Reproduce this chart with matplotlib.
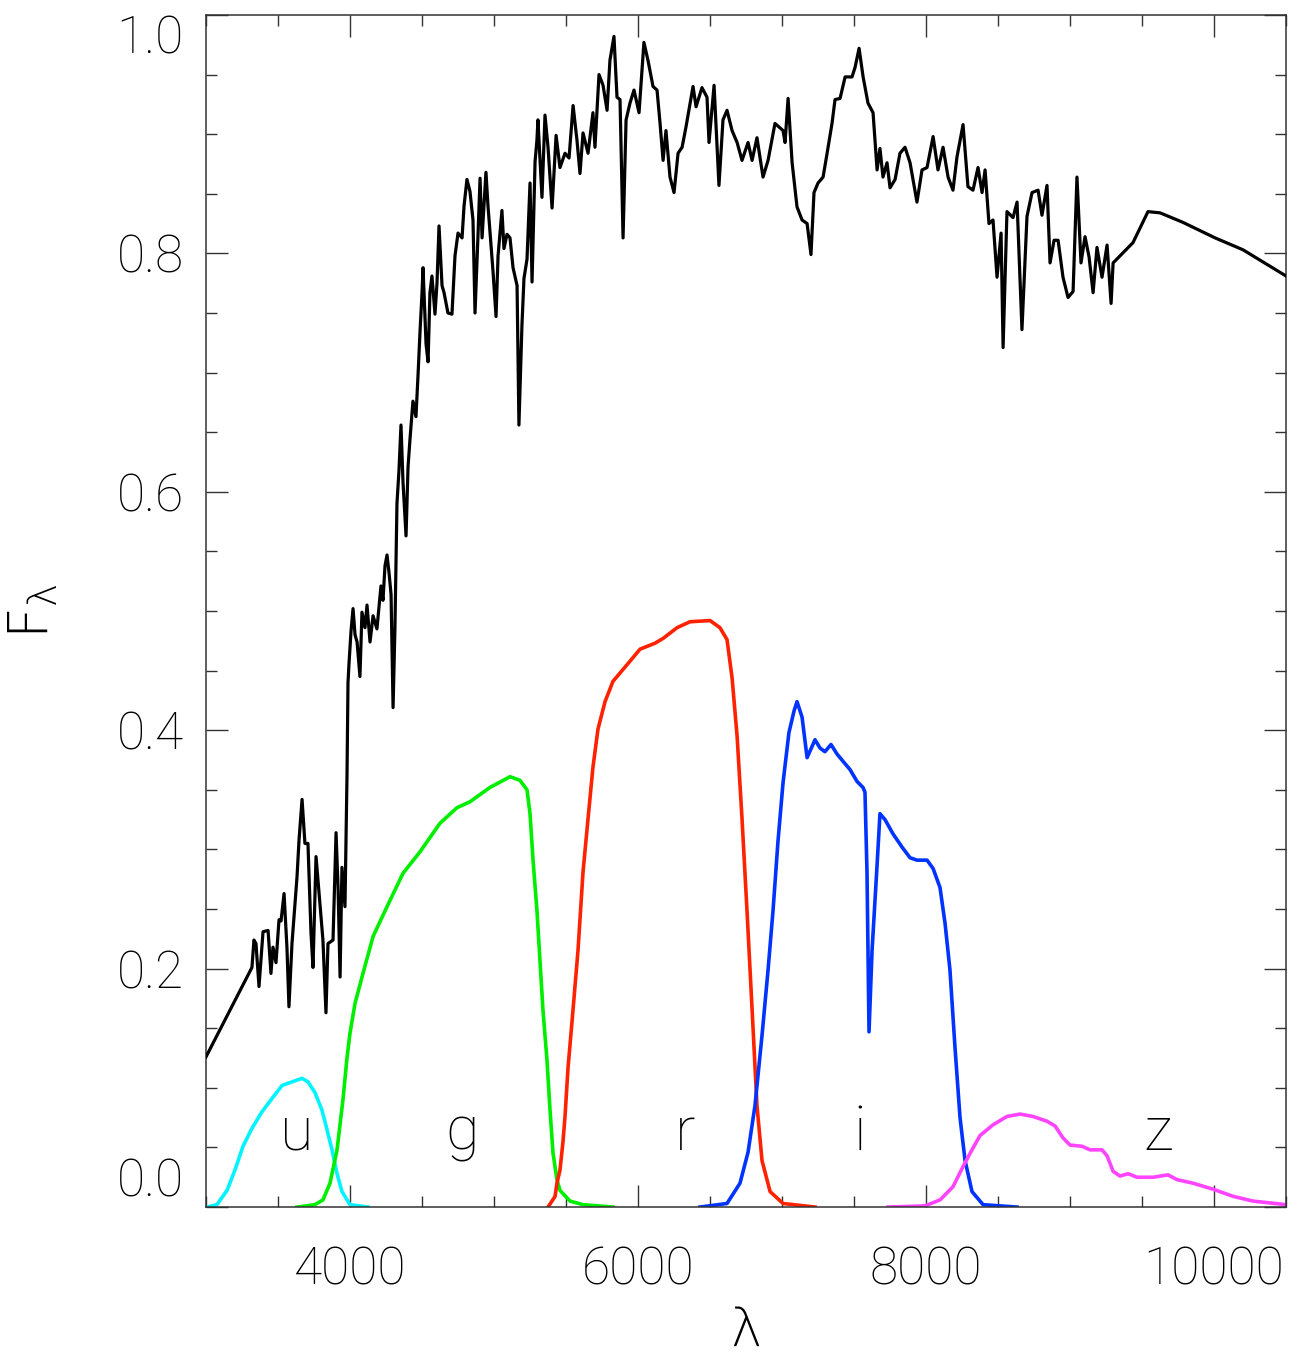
"""Galaxy spectrum with the ugriz filter curves on top."""
import matplotlib
matplotlib.use('Agg')
import matplotlib.pyplot as plt
from matplotlib.ticker import MultipleLocator, FormatStrFormatter

plt.rcParams['font.family'] = ['Roboto', 'DejaVu Sans']
plt.rcParams['font.weight'] = 'light'
plt.rcParams['mathtext.fontset'] = 'dejavusans'

# spectrum (wavelength in Angstrom, normalised flux)
spec_wave = [3000, 3319, 3333, 3347, 3368, 3396, 3431, 3451, 3465, 3486, 3507, 3521,
             3542, 3562, 3576, 3597, 3632, 3646, 3667, 3687, 3708, 3729, 3743, 3764,
             3785, 3812, 3833, 3847, 3882, 3903, 3917, 3931, 3944, 3965, 3979, 3986,
             3993, 4007, 4021, 4035, 4049, 4069, 4083, 4104, 4118, 4139, 4160, 4187,
             4215, 4229, 4243, 4257, 4271, 4285, 4299, 4312, 4326, 4340, 4354, 4368,
             4389, 4403, 4417, 4437, 4458, 4472, 4486, 4500, 4507, 4528, 4542, 4555,
             4569, 4590, 4604, 4618, 4639, 4653, 4680, 4708, 4729, 4750, 4778, 4792,
             4812, 4833, 4854, 4868, 4889, 4903, 4917, 4944, 4958, 4993, 5014, 5028,
             5055, 5069, 5090, 5111, 5132, 5160, 5173, 5194, 5208, 5229, 5250, 5264,
             5285, 5298, 5305, 5333, 5354, 5375, 5403, 5431, 5458, 5493, 5521, 5549,
             5576, 5597, 5618, 5653, 5687, 5701, 5729, 5757, 5785, 5805, 5833, 5854,
             5875, 5896, 5917, 5944, 5972, 6007, 6041, 6069, 6104, 6132, 6153, 6174,
             6194, 6222, 6250, 6278, 6306, 6333, 6382, 6403, 6444, 6479, 6493, 6528,
             6562, 6590, 6618, 6653, 6688, 6722, 6764, 6792, 6826, 6868, 6903, 6951,
             7007, 7021, 7042, 7070, 7104, 7139, 7174, 7201, 7222, 7250, 7285, 7313,
             7347, 7368, 7403, 7438, 7486, 7507, 7535, 7563, 7597, 7632, 7660, 7680,
             7701, 7729, 7750, 7785, 7819, 7854, 7889, 7937, 7972, 8007, 8049, 8083,
             8118, 8153, 8187, 8215, 8257, 8291, 8326, 8361, 8389, 8410, 8437, 8465,
             8493, 8521, 8535, 8562, 8604, 8632, 8666, 8701, 8736, 8778, 8805, 8840,
             8861, 8889, 8917, 8951, 8986, 9021, 9048, 9076, 9104, 9132, 9160, 9187,
             9222, 9257, 9285, 9299, 9437, 9541, 9625, 9784, 10007, 10201, 10500]
spec_flux = [0.126, 0.201, 0.224, 0.221, 0.185, 0.231, 0.232, 0.196, 0.218, 0.205, 0.241, 0.240,
             0.263, 0.218, 0.168, 0.221, 0.277, 0.308, 0.342, 0.305, 0.305, 0.230, 0.201, 0.294,
             0.263, 0.224, 0.163, 0.221, 0.224, 0.314, 0.268, 0.193, 0.285, 0.252, 0.361, 0.440,
             0.456, 0.483, 0.502, 0.480, 0.474, 0.445, 0.499, 0.486, 0.505, 0.474, 0.496, 0.485,
             0.521, 0.509, 0.538, 0.547, 0.532, 0.514, 0.419, 0.486, 0.590, 0.618, 0.656, 0.608,
             0.563, 0.621, 0.645, 0.676, 0.663, 0.697, 0.734, 0.767, 0.788, 0.724, 0.709, 0.767,
             0.781, 0.749, 0.775, 0.823, 0.773, 0.767, 0.750, 0.749, 0.798, 0.817, 0.813, 0.840,
             0.862, 0.852, 0.828, 0.750, 0.816, 0.863, 0.813, 0.868, 0.840, 0.785, 0.747, 0.798,
             0.836, 0.804, 0.816, 0.813, 0.788, 0.773, 0.656, 0.740, 0.779, 0.795, 0.859, 0.776,
             0.877, 0.895, 0.912, 0.847, 0.916, 0.889, 0.838, 0.899, 0.872, 0.884, 0.880, 0.924,
             0.895, 0.867, 0.901, 0.884, 0.918, 0.889, 0.950, 0.941, 0.920, 0.962, 0.982, 0.931,
             0.929, 0.813, 0.912, 0.926, 0.937, 0.918, 0.977, 0.962, 0.940, 0.937, 0.909, 0.878,
             0.903, 0.864, 0.851, 0.884, 0.889, 0.906, 0.940, 0.923, 0.939, 0.931, 0.893, 0.941,
             0.857, 0.912, 0.920, 0.903, 0.893, 0.878, 0.893, 0.878, 0.897, 0.864, 0.878, 0.909,
             0.903, 0.893, 0.930, 0.876, 0.839, 0.828, 0.825, 0.799, 0.851, 0.859, 0.864, 0.884,
             0.909, 0.929, 0.930, 0.948, 0.948, 0.956, 0.972, 0.948, 0.926, 0.918, 0.870, 0.888,
             0.864, 0.876, 0.855, 0.862, 0.884, 0.889, 0.876, 0.843, 0.870, 0.872, 0.898, 0.870,
             0.889, 0.864, 0.853, 0.881, 0.908, 0.856, 0.853, 0.872, 0.851, 0.870, 0.825, 0.828,
             0.780, 0.817, 0.721, 0.835, 0.830, 0.843, 0.736, 0.831, 0.851, 0.853, 0.832, 0.857,
             0.792, 0.811, 0.811, 0.780, 0.763, 0.768, 0.864, 0.792, 0.814, 0.797, 0.767, 0.805,
             0.780, 0.807, 0.758, 0.792, 0.809, 0.835, 0.834, 0.826, 0.813, 0.803, 0.781]

# filter response curves
u_wave = [3007, 3076, 3146, 3201, 3257, 3319, 3389, 3458, 3528, 3597, 3667, 3708,
          3757, 3806, 3840, 3875, 3910, 3944, 4000, 4125]
u_resp = [0.0, 0.002, 0.014, 0.031, 0.051, 0.066, 0.080, 0.091, 0.102, 0.105, 0.108, 0.105,
          0.096, 0.081, 0.065, 0.048, 0.028, 0.013, 0.002, 0.0]

g_wave = [3632, 3757, 3812, 3861, 3910, 3951, 3979, 4000, 4035, 4090, 4160, 4257, 4368,
          4486, 4625, 4743, 4833, 4972, 5111, 5180, 5229, 5250, 5271, 5298, 5319, 5340,
          5368, 5389, 5410, 5437, 5458, 5528, 5618, 5826]
g_resp = [0.0, 0.002, 0.006, 0.020, 0.048, 0.090, 0.125, 0.146, 0.171, 0.196, 0.227, 0.252, 0.280,
          0.298, 0.322, 0.335, 0.340, 0.352, 0.361, 0.358, 0.350, 0.330, 0.291, 0.249, 0.207, 0.165,
          0.123, 0.081, 0.045, 0.023, 0.014, 0.005, 0.002, 0.0]

r_wave = [5375, 5424, 5437, 5458, 5479, 5493, 5514, 5549, 5583, 5618, 5653, 5687, 5722,
          5771, 5826, 5924, 6014, 6118, 6174, 6271, 6361, 6500, 6569, 6618, 6653, 6688,
          6722, 6757, 6792, 6826, 6861, 6917, 7007, 7229]
r_resp = [0.0, 0.009, 0.020, 0.031, 0.055, 0.076, 0.117, 0.166, 0.215, 0.281, 0.326, 0.369, 0.401,
          0.424, 0.441, 0.455, 0.468, 0.473, 0.477, 0.486, 0.491, 0.492, 0.486, 0.476, 0.444, 0.395,
          0.326, 0.248, 0.166, 0.085, 0.039, 0.013, 0.003, 0.0]

i_wave = [6430, 6618, 6708, 6764, 6812, 6861, 6903, 6937, 6972, 7007, 7048, 7083, 7104,
          7139, 7174, 7229, 7264, 7298, 7340, 7382, 7423, 7472, 7521, 7562, 7576, 7590,
          7604, 7625, 7660, 7680, 7715, 7771, 7833, 7889, 7937, 8007, 8049, 8097, 8132,
          8166, 8201, 8236, 8271, 8319, 8396, 8632]
i_resp = [0.0, 0.003, 0.020, 0.046, 0.085, 0.144, 0.199, 0.248, 0.307, 0.356, 0.398, 0.416, 0.424,
          0.411, 0.377, 0.392, 0.385, 0.382, 0.388, 0.380, 0.374, 0.367, 0.357, 0.352, 0.348, 0.281,
          0.147, 0.215, 0.287, 0.330, 0.325, 0.313, 0.302, 0.293, 0.291, 0.291, 0.284, 0.268, 0.238,
          0.199, 0.134, 0.075, 0.039, 0.013, 0.002, 0.0]

z_wave = [7736, 7993, 8097, 8187, 8257, 8319, 8375, 8465, 8562, 8653, 8743, 8840, 8896,
          8951, 9000, 9083, 9139, 9222, 9257, 9299, 9347, 9403, 9465, 9576, 9680, 9743,
          9854, 9993, 10132, 10271, 10500]
z_resp = [0.0, 0.001, 0.006, 0.017, 0.034, 0.048, 0.060, 0.069, 0.076, 0.078, 0.076, 0.072, 0.068,
          0.058, 0.052, 0.051, 0.048, 0.048, 0.043, 0.030, 0.026, 0.028, 0.025, 0.025, 0.027, 0.023,
          0.020, 0.015, 0.009, 0.005, 0.002]

band_names = ['u', 'g', 'r', 'i', 'z']
band_label_wave = [3632, 4778, 6326, 7541, 9611]
band_colors = ['#00f4ff', '#00ee00', '#ff2200', '#0033ff', '#ff44ff']

fig = plt.figure(figsize=(13.03, 13.59), dpi=100)
ax = fig.add_axes([0.1581, 0.1118, 0.8289, 0.8772])

ax.plot(spec_wave, spec_flux, color='black', lw=2.3, zorder=3)
curves = [(u_wave, u_resp), (g_wave, g_resp), (r_wave, r_resp), (i_wave, i_resp), (z_wave, z_resp)]
for (w, t), c in zip(curves, band_colors):
    ax.plot(w, t, color=c, lw=2.6, zorder=2)

for name, w in zip(band_names, band_label_wave):
    ax.text(w, 0.048, name, fontsize=44, ha='center', va='baseline', color='black')

ax.set_xlim(3000, 10500)
ax.set_ylim(0.0, 1.0)
ax.xaxis.set_major_locator(MultipleLocator(2000))
ax.xaxis.set_minor_locator(MultipleLocator(500))
ax.yaxis.set_major_locator(MultipleLocator(0.2))
ax.yaxis.set_minor_locator(MultipleLocator(0.05))
ax.yaxis.set_major_formatter(FormatStrFormatter('%.1f'))

ax.tick_params(which='both', direction='in', top=True, right=True, color='#333333', width=1.0)
ax.tick_params(which='major', length=16, labelsize=37, labelcolor='black')
ax.tick_params(axis='x', which='major', pad=28)
ax.tick_params(axis='y', which='major', pad=16)
ax.tick_params(which='minor', length=8)
for s in ax.spines.values():
    s.set_color('#333333')
    s.set_linewidth(1.1)

# end labels on the y axis sit inside the frame, as in the original
fig.canvas.draw()
for tick in ax.yaxis.get_major_ticks():
    v = tick.get_loc()
    if abs(v - 1.0) < 1e-6:
        tick.label1.set_verticalalignment('top')
    elif abs(v) < 1e-6:
        tick.label1.set_verticalalignment('bottom')

# greek lambda: use DejaVu in its thinnest cut so it matches the light digits
lam_font = dict(family=['DejaVu Sans'], weight='ultralight')
ax.set_xlabel('λ', fontsize=38, color='black', fontdict=lam_font)
ax.xaxis.set_label_coords(0.5, -0.082)
ax.set_ylabel(r'F$_{\mathregular{λ}}$', fontsize=40, color='black', fontdict=lam_font)
ax.yaxis.set_label_coords(-0.135, 0.5)

fig.savefig('out.png', dpi=100)
